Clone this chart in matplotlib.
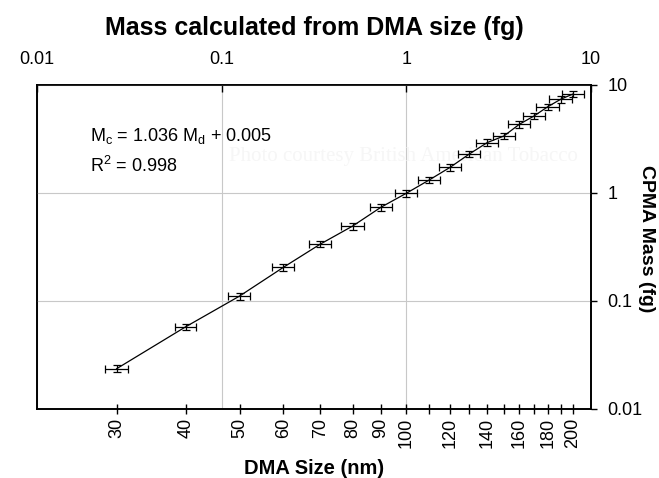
import matplotlib.pyplot as plt
from matplotlib.ticker import FixedLocator, FixedFormatter, NullLocator

plt.rcParams['font.family'] = ['Liberation Sans', 'DejaVu Sans']

# DMA size (nm) and measured CPMA mass (fg)
dma_size = [30, 40, 50, 60, 70, 80, 90, 100, 110, 120, 130, 140, 150, 160, 170, 180, 190, 200]
cpma_mass = [0.0236, 0.0578, 0.111, 0.205, 0.337, 0.494, 0.738, 0.994, 1.32, 1.73,
             2.30, 2.93, 3.37, 4.33, 5.16, 6.29, 7.38, 8.26]
dma_err = [1.4, 1.8, 2.3, 2.8, 3.2, 3.7, 4.1, 4.6, 5.1, 5.5, 6.0, 6.4, 6.9, 7.4, 7.8, 8.3, 8.7, 9.2]
mass_err = [0.0017, 0.004, 0.008, 0.014, 0.024, 0.035, 0.052, 0.07, 0.09, 0.12,
            0.16, 0.2, 0.24, 0.3, 0.36, 0.44, 0.52, 0.58]

size_ticks = [30, 40, 50, 60, 70, 80, 90, 100, 110, 120, 130, 140, 150, 160, 170, 180, 190, 200]
size_labels = ['30', '40', '50', '60', '70', '80', '90', '100', '', '120', '', '140', '', '160', '', '180', '', '200']
mass_ticks = [0.01, 0.1, 1, 10]
mass_labels = ['0.01', '0.1', '1', '10']

fig = plt.figure(figsize=(6.59, 4.78), dpi=100)
ax = fig.add_axes([0.0561, 0.1444, 0.8407, 0.6778])
ax_top = ax.twiny()
ax.set_zorder(ax_top.get_zorder() + 1)
ax.patch.set_visible(False)

# data
ax.errorbar(dma_size, cpma_mass, xerr=dma_err, yerr=mass_err, color='black', lw=0.9,
            elinewidth=0.9, capsize=2.6, capthick=0.9)

ax.set_xscale('log')
ax.set_yscale('log')
ax.set_xlim(10 ** (4 / 3), 10 ** (7 / 3))
ax.set_ylim(0.01, 10)

ax.xaxis.set_major_locator(FixedLocator(size_ticks))
ax.xaxis.set_major_formatter(FixedFormatter(size_labels))
ax.xaxis.set_minor_locator(NullLocator())
ax.tick_params(axis='x', direction='inout', length=7, width=1, labelsize=13, rotation=90, pad=3)

ax.yaxis.tick_right()
ax.yaxis.set_major_locator(FixedLocator(mass_ticks))
ax.yaxis.set_major_formatter(FixedFormatter(mass_labels))
ax.yaxis.set_minor_locator(NullLocator())
ax.tick_params(axis='y', direction='out', length=4, width=1, labelsize=13, pad=8)
ax.grid(True, axis='y', color='#c8c8c8', lw=0.8)
ax.set_axisbelow(True)

ax_top.set_xscale('log')
ax_top.set_xlim(0.01, 10)
ax_top.xaxis.set_major_locator(FixedLocator(mass_ticks))
ax_top.xaxis.set_major_formatter(FixedFormatter(mass_labels))
ax_top.xaxis.set_minor_locator(NullLocator())
ax_top.tick_params(axis='x', direction='in', length=5, width=1, labelsize=13, pad=12)
ax_top.grid(True, axis='x', color='#c8c8c8', lw=0.8)

for a in (ax, ax_top):
    for s in a.spines.values():
        s.set_linewidth(1.2)

ax.set_xlabel('DMA Size (nm)', fontsize=14.5, fontweight='bold', labelpad=8)
ax.set_ylabel('CPMA Mass (fg)', fontsize=14, fontweight='bold', rotation=270,
              ha='center', va='center')
ax.yaxis.set_label_coords(1.101, 0.525)
ax_top.set_xlabel('Mass calculated from DMA size (fg)', fontsize=18, fontweight='bold', labelpad=12)

ax.text(0.096, 0.843, r'$\mathregular{M_c}$ = 1.036 $\mathregular{M_d}$ + 0.005', transform=ax.transAxes,
        fontsize=13, va='center')
ax.text(0.096, 0.75, r'$\mathregular{R^2}$ = 0.998', transform=ax.transAxes, fontsize=13, va='center')
ax.text(0.661, 0.778, 'Photo courtesy British American Tobacco', transform=ax.transAxes,
        fontsize=15, family='Liberation Serif', color='#f6f6f6', ha='center', va='center', zorder=0)

fig.savefig('out.png', dpi=100)
